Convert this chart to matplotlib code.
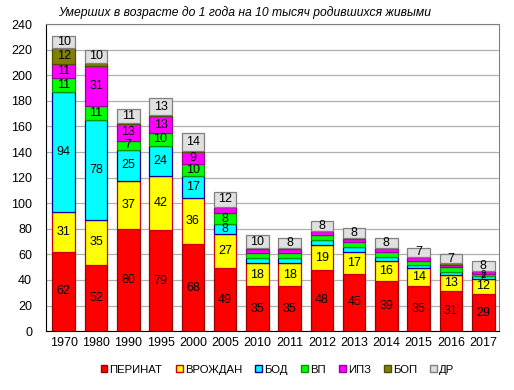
import numpy as np
import matplotlib
matplotlib.use("Agg")
import matplotlib.pyplot as plt
from matplotlib.patches import Patch

plt.rcParams['font.family'] = ['Liberation Sans', 'DejaVu Sans']

years = ['1970', '1980', '1990', '1995', '2000', '2005', '2010', '2011',
         '2012', '2013', '2014', '2015', '2016', '2017']

perinat = [62, 52, 80, 79, 68, 49, 35, 35, 48, 45, 39, 35, 31, 29]
vrozhdan = [31, 35, 37, 42, 36, 27, 18, 18, 19, 17, 16, 14, 13, 12]
bod = [94, 78, 25, 24, 17, 8, 4, 4, 4, 4, 3, 3, 2, 2]
vp = [11, 11, 7, 10, 10, 8, 4, 4, 4, 4, 4, 3, 4, 2]
ipz = [11, 31, 13, 13, 9, 5, 3, 3, 3, 2, 3, 3, 2, 2]
bop = [12, 3, 1, 1, 1, 0, 1, 1, 0, 1, 0, 0, 1, 0]
dr = [10, 10, 11, 13, 14, 12, 10, 8, 8, 8, 8, 7, 7, 8]

series = [perinat, vrozhdan, bod, vp, ipz, bop, dr]
names = ['ПЕРИНАТ', 'ВРОЖДАН', 'БОД', 'ВП', 'ИПЗ', 'БОП', 'ДР']
faces = ['#FF0000', '#FFFF00', '#00FFFF', '#00FF00', '#FF00FF', '#808000', '#E0E0E0']
edges = ['#990000', '#CC0000', '#000099', '#009900', '#990099', '#4D4D00', '#808080']

fig = plt.figure(figsize=(5.14, 3.9), dpi=100)
ax = fig.add_axes([0.0895, 0.151, 0.882, 0.787])

x = np.arange(len(years))
bottom = np.zeros(len(years))
for k, (vals, fc, ec) in enumerate(zip(series, faces, edges)):
    vals = np.array(vals, dtype=float)
    ax.bar(x, vals, 0.7, bottom=bottom, color=fc, edgecolor=ec, linewidth=0.9, zorder=3)
    for i, v in enumerate(vals):
        # the last year keeps its tiny crowded labels, like the original
        tiny = i == len(years) - 1 and k in (2, 3)
        if v >= 7 or tiny:
            ax.text(x[i], bottom[i] + v / 2, str(int(v)), ha='center', va='center',
                    fontsize=7 if tiny else 9, color='black', zorder=4)
    bottom += vals

ax.set_ylim(0, 240)
ax.set_xlim(-0.55, len(years) - 0.5)
ax.set_yticks(range(0, 241, 20))
ax.set_xticks(x)
ax.set_xticklabels(years)
ax.tick_params(axis='both', length=0, labelsize=9, pad=4)
ax.tick_params(axis='y', pad=10)
ax.grid(axis='y', color='#B0B0B0', linewidth=0.9, zorder=0)
for side in ['top', 'right']:
    ax.spines[side].set_color('#808080')
ax.spines['bottom'].set_color('black')
ax.spines['left'].set_color('black')

fig.text(0.475, 0.967, 'Умерших в возрасте до 1 года на 10 тысяч родившихся живыми',
         ha='center', va='center', fontsize=8.7, style='italic')

handles = [Patch(facecolor=fc, edgecolor=ec, label=n) for n, fc, ec in zip(names, faces, edges)]
fig.legend(handles=handles, loc='center', bbox_to_anchor=(0.54, 0.052), ncol=7,
           frameon=False, fontsize=8.2, handlelength=0.6, handleheight=0.6,
           handletextpad=0.2, columnspacing=1.15)

fig.savefig('out.png', dpi=100)
